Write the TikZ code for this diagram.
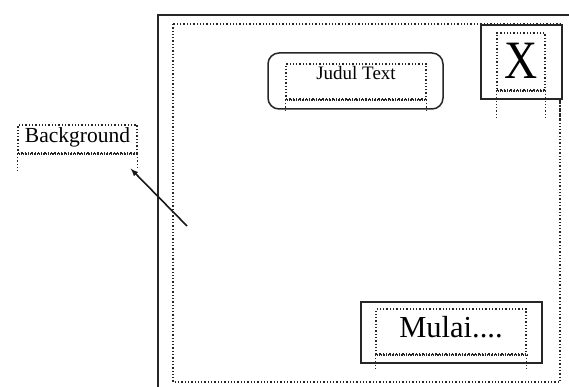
\documentclass[tikz,border=0pt]{standalone}
\usepackage{fontspec}
\setmainfont{Liberation Serif}
\usetikzlibrary{positioning}

\begin{document}
\begin{tikzpicture}[x=1pt,y=-1pt,
    frame/.style={draw=black!85,line width=2pt},
    dotbox/.style={draw=black!85,dotted,line width=1.3pt,inner sep=0pt},
    leg/.style={draw=black!85,dotted,line width=1.3pt},
    baseline dots/.style={draw=black!85,line width=2pt,dash pattern=on 0.9pt off 0.9pt}]
        \useasboundingbox (0,0) rectangle (569,387);

        % window
        \draw[frame] (569,15) -- (158,15) -- (158,387);
        \draw[leg] (173,24) rectangle (560,382);

        % close button
        \node[frame,fill=white,minimum width=81pt,minimum height=74pt,anchor=north west] (closebtn) at (480,24) {};
        \node[dotbox,minimum width=48pt,minimum height=57pt,text height=35pt,text depth=0pt,font=\fontsize{54}{54}\selectfont] (closetxt) at (521,61.5) {\scalebox{0.85}[1]{X}};
        \draw[baseline dots] (closetxt.south west) -- (closetxt.south east);
        \draw[leg] (closetxt.south west) -- ++(0,28);
        \draw[leg] (closetxt.south east) -- ++(0,28);
        \draw[leg] (560,98) -- (560,118);

        % title
        \node[draw=black!85,line width=1.5pt,rounded corners=11pt,minimum width=175pt,minimum height=56pt] (titlebox) at (355.5,81) {};
        \node[dotbox,minimum width=140pt,minimum height=35pt,text height=14pt,text depth=17pt,font=\fontsize{19}{19}\selectfont] (titletxt) at (356,81.5) {Judul Text};
        \draw[baseline dots] (titletxt.south west) -- (titletxt.south east);
        \draw[leg] (titletxt.south west) -- ++(0,11);
        \draw[leg] (titletxt.south east) -- ++(0,11);

        % start button
        \node[frame,minimum width=181pt,minimum height=61pt] (startbtn) at (451.5,332.5) {};
        \node[dotbox,minimum width=150pt,minimum height=45pt,text height=20pt,text depth=9pt,font=\fontsize{30.5}{30.5}\selectfont] (starttxt) at (451,331.5) {Mulai....};
        \draw[baseline dots] (starttxt.south west) -- (starttxt.south east);
        \draw[leg] (starttxt.south west) -- ++(0,14);
        \draw[leg] (starttxt.south east) -- ++(0,14);

        % background label
        \node[dotbox,minimum width=119pt,minimum height=28pt,text height=13pt,text depth=5pt,font=\fontsize{21.5}{21.5}\selectfont] (bgtxt) at (77.5,139) {Background};
        \draw[baseline dots] (bgtxt.south west) -- (bgtxt.south east);
        \draw[leg] (bgtxt.south west) -- ++(0,19);
        \draw[leg] (bgtxt.south east) -- ++(0,14);

        \coordinate (pointer) at (187,226);
        \draw[-latex,line width=1.6pt,black!90] (pointer) -- ([xshift=-7pt,yshift=-15pt]bgtxt.south east);
\end{tikzpicture}
\end{document}
